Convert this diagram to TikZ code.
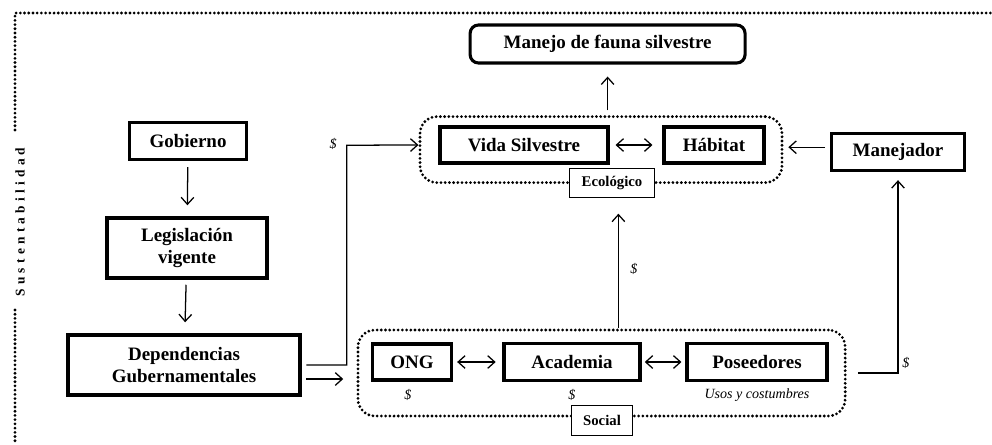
\documentclass[tikz,border=0pt]{standalone}
\usepackage{fontspec}
\setmainfont{Liberation Serif}
\usepackage{tikz}
\usetikzlibrary{positioning, arrows.meta}

\tikzset{
  caja/.style={draw, line width=2.2pt, inner sep=2pt, align=center,
    font=\fontsize{13.5}{15.5}\selectfont\bfseries},
  etiqueta/.style={draw, line width=0.7pt, fill=white, inner sep=2pt,
    font=\fontsize{10.5}{12}\selectfont\bfseries},
  grupo/.style={draw, line width=2.2pt, line cap=round, dash pattern=on 0pt off 3pt,
    rounded corners=12pt},
  flecha/.style={line width=0.9pt, -{Straight Barb[length=5pt,width=9pt]}},
  dflecha/.style={line width=0.9pt, {Straight Barb[length=5pt,width=9pt]}-{Straight Barb[length=5pt,width=9pt]}},
  pesos/.style={font=\fontsize{10}{12}\selectfont\itshape}
}

\begin{document}
\begin{tikzpicture}
  \useasboundingbox (0,0) rectangle (24.8,-11.1);

  % marco de sustentabilidad
  \draw[grupo, rounded corners=0pt] (0.375,-3.25) -- (0.375,-0.325) -- (24.8,-0.325);
  \draw[grupo, rounded corners=0pt] (0.375,-7.75) -- (0.375,-11.1);
  \node[rotate=90, font=\fontsize{9.5}{10}\selectfont\bfseries\addfontfeatures{LetterSpace=32}]
    (sust) at (0.5,-5.55) {Sustentabilidad};

  % contenedores
  \node[grupo, minimum width=9.05cm, minimum height=1.65cm] (eco) at (15.025,-3.74) {};
  \node[grupo, minimum width=12.18cm, minimum height=2.15cm] (soc) at (15.04,-9.325) {};

  % cajas
  \node[caja, rounded corners=6pt, minimum width=6.875cm, minimum height=0.95cm] (manejo) at (15.19,-1.1) {Manejo de fauna silvestre};
  \node[caja, minimum width=4.2cm, minimum height=0.9cm] (vida) at (13.1,-3.625) {Vida Silvestre};
  \node[caja, minimum width=2.5cm, minimum height=0.9cm] (habitat) at (17.85,-3.625) {Hábitat};
  \node[etiqueta, minimum width=2.13cm, minimum height=0.72cm] (ecolbl) at (15.3,-4.57) {Ecológico};
  \node[caja, minimum width=3.33cm, minimum height=0.93cm] (manejador) at (22.45,-3.8) {Manejador};

  \node[caja, minimum width=2.93cm, minimum height=0.93cm] (gobierno) at (4.7,-3.525) {Gobierno};
  \node[caja, minimum width=4cm, minimum height=1.5cm] (legis) at (4.675,-6.2) {Legislación\\vigente};
  \node[caja, minimum width=5.8cm, minimum height=1.5cm] (depend) at (4.6,-9.125) {Dependencias\\Gubernamentales};

  \node[caja, minimum width=1.98cm, minimum height=0.9cm] (ong) at (10.3,-9.05) {ONG};
  \node[caja, minimum width=3.4cm, minimum height=0.93cm] (academia) at (14.3,-9.05) {Academia};
  \node[caja, minimum width=3.5cm, minimum height=0.93cm] (poseed) at (18.925,-9.05) {Poseedores};
  \node[pesos] (pong) at (10.2,-9.875) {\$};
  \node[pesos] (pacad) at (14.3,-9.875) {\$};
  \node[pesos] (usos) at (18.925,-9.875) {Usos y costumbres};
  \node[etiqueta, minimum width=1.53cm, minimum height=0.75cm] (soclbl) at (15.05,-10.5) {Social};

  % conexiones
  \draw[flecha, shorten <=0.15cm, shorten >=0.28cm] (gobierno) -- (legis);
  \draw[flecha, shorten <=0.13cm, shorten >=0.28cm] (legis) -- (depend);
  \draw[flecha, shorten <=0.12cm, shorten >=0.33cm] ([yshift=-0.35cm]depend.east) -- ([yshift=-0.35cm]depend.east -| soc.west);
  \draw[flecha, shorten <=0.12cm] (depend.east) -| (8.67,-3.63) -- (eco.west |- vida);
  \node[pesos] (pdep) at (8.33,-3.6) {\$};

  \draw[flecha, shorten >=0.4cm] ([xshift=0.42cm]soc.north) -- ([xshift=0.42cm]soc.north |- ecolbl.south);
  \node[pesos] (psoc) at (15.85,-6.72) {\$};

  \draw[flecha, shorten <=0.28cm, shorten >=0.2cm] (soc.east) -| (manejador.south);
  \node[pesos] (pman) at (22.65,-9.07) {\$};

  \draw[flecha, shorten <=0.12cm, shorten >=0.12cm] (manejador.west |- 0,-3.68) -- (eco.east |- 0,-3.68);
  \draw[flecha, shorten <=0.12cm, shorten >=0.3cm] (eco.north -| manejo) -- (manejo.south);

  \draw[dflecha, shorten <=0.15cm, shorten >=0.25cm] (vida) -- (habitat);
  \draw[dflecha, shorten <=0.1cm, shorten >=0.17cm] (ong) -- (academia);
  \draw[dflecha, shorten <=0.08cm, shorten >=0.1cm] (academia) -- (poseed);
\end{tikzpicture}
\end{document}
